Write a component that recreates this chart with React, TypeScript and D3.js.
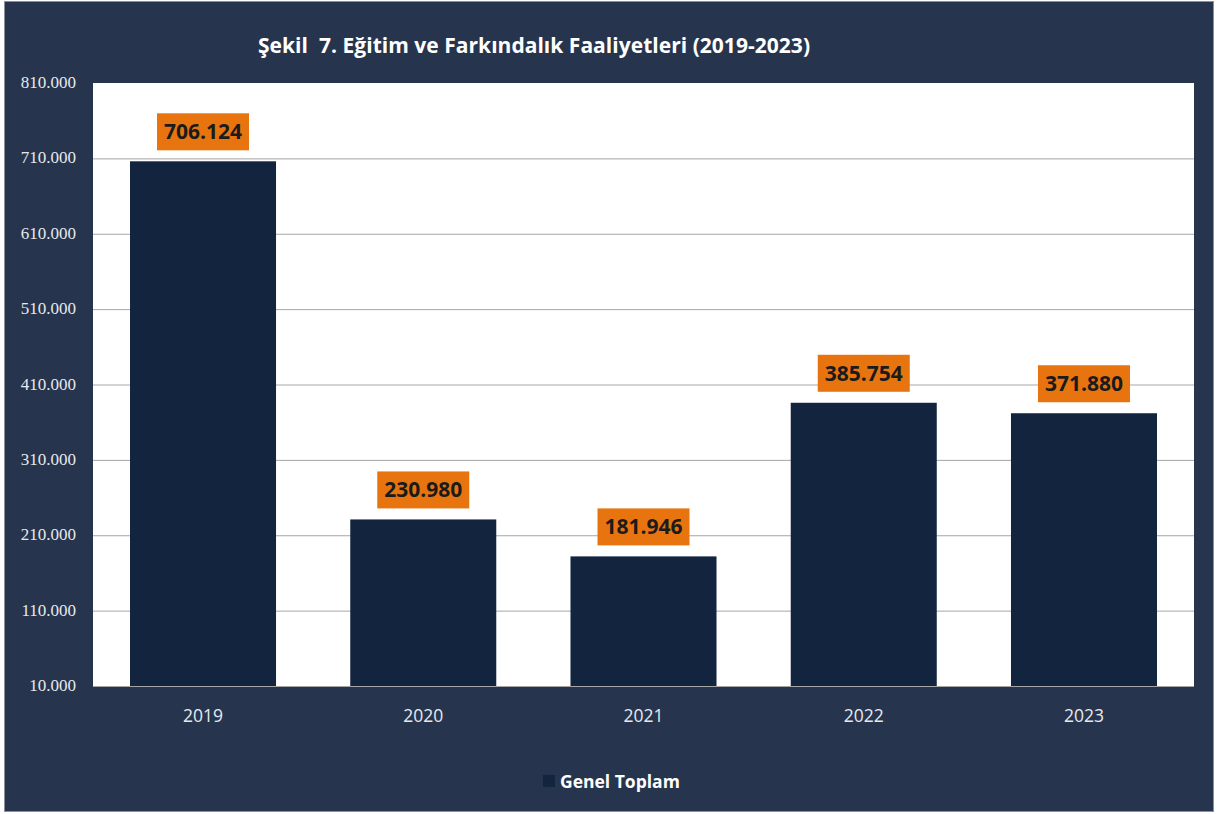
import React, { useEffect, useRef } from 'react';
import * as d3 from 'd3';

const years = ['2019', '2020', '2021', '2022', '2023'];
const totals = [706124, 230980, 181946, 385754, 371880];
const yTicks = [10000, 110000, 210000, 310000, 410000, 510000, 610000, 710000, 810000];
const title = 'Şekil  7. Eğitim ve Farkındalık Faaliyetleri (2019-2023)';
const legendLabel = 'Genel Toplam';

const fmt = (v: number) => d3.format(',')(v).replace(/,/g, '.');

const App = () => {
  const ref = useRef<SVGSVGElement>(null);

  useEffect(() => {
    const width = 1219;
    const height = 814;
    const plot = { left: 93, right: 1194, top: 83, bottom: 686 };

    const svg = d3.select(ref.current);
    svg.selectAll('*').remove();

    // outer frame
    svg.append('rect')
      .attr('x', 4.5).attr('y', 1.5)
      .attr('width', 1209).attr('height', 810)
      .attr('fill', '#26354d')
      .attr('stroke', '#8a8f98');

    svg.append('text')
      .attr('x', 258).attr('y', 53)
      .attr('fill', '#ffffff')
      .attr('font-family', 'Open Sans, sans-serif')
      .attr('font-weight', 'bold')
      .attr('font-size', 21)
      .attr('textLength', 552)
      .style('white-space', 'pre')
      .text(title);

    // plot area
    svg.append('rect')
      .attr('x', plot.left).attr('y', plot.top)
      .attr('width', plot.right - plot.left).attr('height', plot.bottom - plot.top)
      .attr('fill', '#ffffff');

    const x = d3.scaleBand().domain(years).range([plot.left, plot.right]).paddingInner(0.337).paddingOuter(0.168);
    const y = d3.scaleLinear().domain([10000, 810000]).range([plot.bottom, plot.top]);

    // gridlines
    svg.append('g')
      .selectAll('line')
      .data(yTicks.slice(1, -1))
      .join('line')
      .attr('x1', plot.left).attr('x2', plot.right)
      .attr('y1', d => y(d) + 0.5).attr('y2', d => y(d) + 0.5)
      .attr('stroke', '#a6a6a6');

    // y labels
    svg.append('g')
      .selectAll('text')
      .data(yTicks)
      .join('text')
      .attr('x', 76)
      .attr('y', d => y(d) + 5)
      .attr('text-anchor', 'end')
      .attr('fill', '#e6e9ee')
      .attr('font-family', 'Liberation Serif, serif')
      .attr('font-size', 17)
      .text(d => fmt(d));

    // bars
    svg.append('g')
      .selectAll('rect')
      .data(totals)
      .join('rect')
      .attr('x', (d, i) => x(years[i])!)
      .attr('y', d => y(d))
      .attr('width', x.bandwidth())
      .attr('height', d => y(10000) - y(d))
      .attr('fill', '#13243f');

    // baseline
    svg.append('line')
      .attr('x1', plot.left).attr('x2', plot.right)
      .attr('y1', plot.bottom + 0.5).attr('y2', plot.bottom + 0.5)
      .attr('stroke', '#a6a6a6');

    // data labels
    const labels = svg.append('g')
      .selectAll('g')
      .data(totals)
      .join('g')
      .attr('transform', (d, i) => `translate(${x(years[i])! + x.bandwidth() / 2}, ${y(d) - 11})`);

    labels.append('rect')
      .attr('x', -46).attr('y', -37)
      .attr('width', 92).attr('height', 37)
      .attr('fill', '#e8740f');

    labels.append('text')
      .attr('y', -11)
      .attr('text-anchor', 'middle')
      .attr('fill', '#1b1b1b')
      .attr('font-family', 'Open Sans, sans-serif')
      .attr('font-weight', 'bold')
      .attr('font-size', 21)
      .text(d => fmt(d));

    // x labels
    svg.append('g')
      .selectAll('text')
      .data(years)
      .join('text')
      .attr('x', d => x(d)! + x.bandwidth() / 2)
      .attr('y', 722)
      .attr('text-anchor', 'middle')
      .attr('fill', '#e6e9ee')
      .attr('font-family', 'Open Sans, sans-serif')
      .attr('font-size', 17.5)
      .text(d => d);

    // legend
    svg.append('rect')
      .attr('x', 543).attr('y', 775)
      .attr('width', 12).attr('height', 12)
      .attr('fill', '#13243f');
    svg.append('text')
      .attr('x', 560).attr('y', 788)
      .attr('fill', '#ffffff')
      .attr('font-family', 'Open Sans, sans-serif')
      .attr('font-weight', 'bold')
      .attr('font-size', 17.5)
      .text(legendLabel);

    svg.attr('width', width).attr('height', height);
  }, []);

  return (
    <div style={{ position: 'absolute', left: 0, top: 0, background: '#ffffff' }}>
      <svg ref={ref} style={{ display: 'block' }}></svg>
    </div>
  );
};

export default App;
